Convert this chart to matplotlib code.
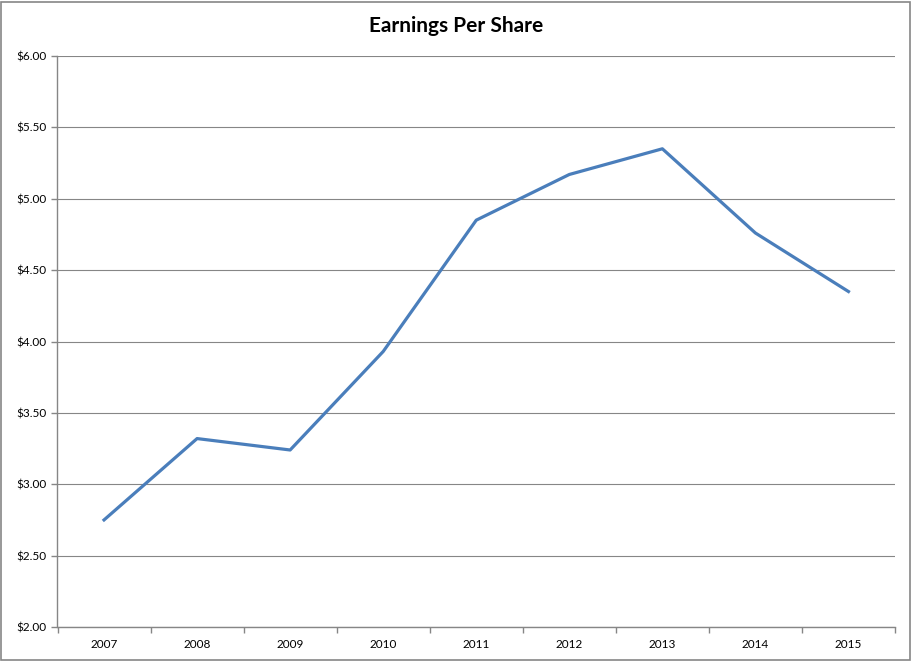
import matplotlib
matplotlib.use("Agg")
import matplotlib.pyplot as plt
from matplotlib.patches import Rectangle
from matplotlib.ticker import FixedLocator, FuncFormatter

years = ["2007", "2008", "2009", "2010", "2011", "2012", "2013", "2014", "2015"]
eps = [2.75, 3.32, 3.24, 3.93, 4.85, 5.17, 5.35, 4.76, 4.35]
y_ticks = [2.0, 2.5, 3.0, 3.5, 4.0, 4.5, 5.0, 5.5, 6.0]
title = "Earnings Per Share"

plt.rcParams['font.family'] = ['Lato', 'DejaVu Sans']

fig = plt.figure(figsize=(9.12, 6.61), dpi=100)
ax = fig.add_axes([57.5/912, 1-627/661, (895-57.5)/912, (627-56)/661])

x = list(range(len(years)))
ax.plot(x, eps, color='#4A7EBB', linewidth=2.3, solid_joinstyle='round', zorder=3)

ax.set_xlim(-0.5, len(years)-0.5)
ax.set_ylim(2.0, 6.0)
ax.yaxis.set_major_locator(FixedLocator(y_ticks))
ax.yaxis.set_major_formatter(FuncFormatter(lambda v, p: f"${v:.2f}"))
ax.set_xticks(x)
ax.set_xticklabels(years)
ax.set_xticks([i - 0.5 for i in range(len(years)+1)], minor=True)
ax.tick_params(axis='x', which='major', length=0, pad=9, labelsize=8.5)
ax.tick_params(axis='x', which='minor', length=4, width=1, color='#868686', direction='out')
ax.tick_params(axis='y', length=4, width=1, color='#868686', direction='out', labelsize=8.5, pad=4)
ax.grid(axis='y', color='#868686', linewidth=0.8, zorder=0)
for s in ['top', 'right']:
    ax.spines[s].set_visible(False)
for s in ['left', 'bottom']:
    ax.spines[s].set_color('#868686')
    ax.spines[s].set_linewidth(1)

fig.text(0.5, 1-26/661, title, ha='center', va='center', fontsize=15, fontweight='bold')

fig.patches.append(Rectangle((1/912, 1/661), 909/912, 658/661, transform=fig.transFigure,
                             fill=False, edgecolor='#868686', linewidth=1.2))

fig.savefig("out.png", dpi=100)
